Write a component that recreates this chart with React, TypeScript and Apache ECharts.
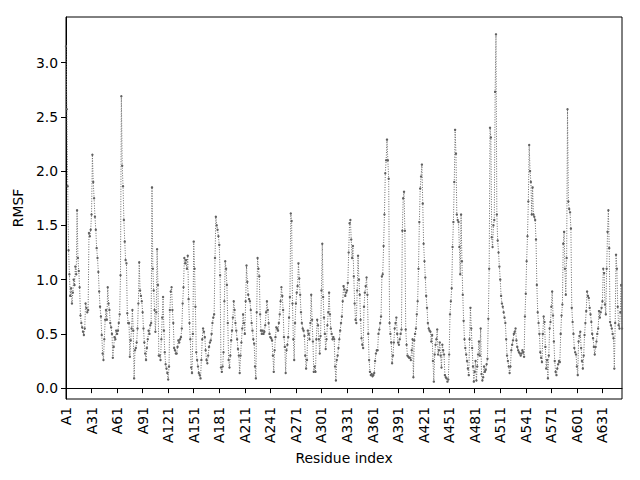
import React, { useEffect, useRef } from "react";
import * as echarts from "echarts";

const rmsf: number[] = [
  3.15, 2.57, 1.86, 1.27, 1.05, 0.85, 0.92, 0.78, 0.88, 1.0,
  0.95, 1.12, 1.05, 1.64, 1.2, 1.08, 0.93, 0.67, 0.6, 0.56,
  0.52, 0.49, 0.55, 0.78, 0.74, 0.7, 0.72, 1.43, 1.4, 1.46,
  1.6, 2.15, 1.9, 1.75, 1.58, 1.46, 1.29, 1.2, 1.07, 0.89,
  0.75, 0.66, 0.49, 0.32, 0.26, 0.45, 0.63, 0.72, 0.63, 0.93,
  0.78, 0.72, 0.6, 0.56, 0.5, 0.28, 0.38, 0.47, 0.45, 0.53,
  0.5, 0.53, 0.6, 0.68, 1.04, 2.69, 2.05, 1.86, 1.55, 1.35,
  1.18, 1.15, 0.69, 0.6, 0.6, 0.29, 0.44, 0.55, 0.72, 0.53,
  0.09, 0.35, 0.37, 0.42, 0.55, 0.78, 1.16, 0.9, 0.85, 0.8,
  0.7, 0.55, 0.42, 0.32, 0.26, 0.37, 0.45, 0.53, 0.5, 0.58,
  0.6, 1.85, 1.1, 0.9, 0.72, 0.52, 0.7, 1.28, 0.95, 0.3,
  0.3, 0.26, 0.45, 0.65, 0.84, 0.53, 0.33, 0.22, 0.18, 0.14,
  0.08, 0.2, 0.72, 0.89, 0.93, 0.72, 0.6, 0.37, 0.35, 0.32,
  0.32, 0.38, 0.44, 0.42, 0.45, 0.47, 0.55, 0.78, 0.93, 1.2,
  1.15, 1.18, 1.1, 1.22, 0.82, 0.6, 0.45, 0.19, 0.14, 0.5,
  1.35, 1.1, 0.75, 0.33, 0.26, 0.2, 0.14, 0.12, 0.09, 0.26,
  0.45, 0.55, 0.52, 0.47, 0.35, 0.26, 0.23, 0.3, 0.38, 0.42,
  0.44, 0.5, 0.6, 0.65, 0.68, 1.2, 1.58, 1.5, 1.46, 1.4,
  1.32, 1.04, 0.19, 0.15, 0.2, 0.33, 0.8, 1.17, 1.1, 0.95,
  0.6, 0.26, 0.19, 0.3, 0.44, 0.53, 0.65, 0.8, 0.72, 0.6,
  0.53, 0.45, 0.36, 0.3, 0.14, 0.3, 0.42, 0.55, 0.68, 0.6,
  0.5, 0.8, 1.13, 0.98, 0.86, 0.82, 0.8, 0.72, 0.6, 0.53,
  0.45, 0.41, 0.2, 0.09, 0.7, 1.2, 1.1, 1.03, 0.68, 0.53,
  0.5, 0.53, 0.5, 0.52, 0.58, 0.7, 0.8, 0.72, 0.6, 0.5,
  0.47, 0.46, 0.44, 0.3, 0.15, 0.35, 0.47, 0.56, 0.55, 0.53,
  0.6, 0.68, 0.8, 0.93, 0.85, 0.72, 0.47, 0.38, 0.14, 0.35,
  0.4, 0.47, 0.65, 0.84, 1.61, 1.54, 0.78, 0.45, 0.26, 0.6,
  0.78, 0.88, 0.94, 1.15, 1.01, 0.86, 0.7, 0.6, 0.55, 0.53,
  0.48, 0.3, 0.18, 0.26, 0.53, 0.5, 0.45, 0.6, 0.86, 0.63,
  0.43, 0.15, 0.2, 0.15, 0.45, 0.63, 0.58, 0.45, 0.32, 0.48,
  0.9, 1.33, 0.84, 0.65, 0.5, 0.36, 0.45, 0.58, 0.7, 0.88,
  0.68, 0.55, 0.5, 0.45, 0.47, 0.45, 0.2, 0.07, 0.26, 0.3,
  0.37, 0.45, 0.53, 0.6, 0.66, 0.8, 0.94, 0.91, 0.85, 0.88,
  0.9, 0.97, 1.25, 1.52, 1.55, 1.37, 1.2, 1.31, 1.03, 0.78,
  0.63, 0.6, 0.9, 1.22, 1.0, 0.86, 0.63, 0.46, 0.4, 0.37,
  0.75, 0.88, 0.94, 1.02, 0.86, 0.5, 0.26, 0.15, 0.12, 0.13,
  0.11, 0.12, 0.14, 0.25, 0.32, 0.35, 0.35, 0.5, 0.54, 0.6,
  0.66, 1.03, 1.05, 1.31, 1.6, 1.98, 2.1, 2.29, 2.1, 1.93,
  0.6, 0.5, 0.42, 0.23, 0.3, 0.42, 0.55, 0.6, 0.65, 0.5,
  0.42, 0.4, 0.45, 0.5, 0.54, 1.45, 1.75, 1.81, 1.45, 0.54,
  0.4, 0.3, 0.29, 0.28, 0.28, 0.26, 0.35, 0.45, 0.1, 0.44,
  0.5, 0.55, 0.68, 0.8, 1.1, 1.53, 1.84, 1.95, 2.06, 1.7,
  1.33, 1.17, 1.02, 0.85, 0.74, 0.6, 0.55, 0.53, 0.52, 0.43,
  0.49, 0.25, 0.06, 0.31, 0.4, 0.45, 0.54, 0.31, 0.35, 0.42,
  0.3, 0.19, 0.4, 0.35, 0.31, 0.12, 0.1, 0.09, 0.06, 0.08,
  0.31, 0.68, 0.8, 0.92, 1.3, 1.53, 1.9, 2.38, 2.16, 1.6,
  1.55, 1.53, 1.3, 1.05, 1.6, 1.17, 0.86, 0.62, 0.45, 0.37,
  0.31, 0.25, 0.18, 0.12, 0.45, 0.74, 0.55, 0.37, 0.2, 0.06,
  0.15, 0.25, 0.07, 0.2, 0.31, 0.43, 0.3, 0.55, 0.13, 0.07,
  0.1, 0.2, 0.15, 0.17, 0.22, 0.27, 0.64, 1.1, 2.4, 2.31,
  1.39, 1.3, 1.5, 1.55, 2.73, 3.26, 1.6, 1.36, 1.25, 1.12,
  1.0, 0.85, 0.78, 0.75, 0.7, 0.65, 0.6, 0.45, 0.3, 0.25,
  0.2, 0.14, 0.2, 0.35, 0.4, 0.44, 0.5, 0.52, 0.55, 0.44,
  0.38, 0.35, 0.33, 0.32, 0.3, 0.32, 0.35, 0.33, 0.29, 0.66,
  0.87, 1.17, 1.4, 1.72, 2.24, 2.0, 1.9, 1.6, 1.85, 1.6,
  1.58, 1.55, 1.37, 0.95, 0.7, 0.6, 0.5, 0.33, 0.28, 0.24,
  0.5, 0.66, 0.61, 0.38, 0.18, 0.26, 0.09, 0.3, 0.55, 0.61,
  0.75, 0.89, 0.67, 0.43, 0.25, 0.15, 0.12, 0.18, 0.22, 0.25,
  0.24, 0.5, 0.67, 0.77, 1.33, 1.44, 1.1, 0.86, 1.2, 2.57,
  1.72, 1.65, 1.62, 1.47, 0.74, 0.61, 0.5, 0.37, 0.33, 0.31,
  0.2, 0.12, 0.43, 0.48, 0.52, 0.37, 0.25, 0.18, 0.3, 0.49,
  0.6, 0.71, 0.89, 0.85, 0.83, 0.74, 0.68, 0.61, 0.5, 0.46,
  0.38, 0.31, 0.38, 0.43, 0.5, 0.55, 0.71, 0.65, 0.7, 0.74,
  0.8, 1.1, 1.06, 0.77, 0.68, 1.1, 1.44, 1.64, 1.29, 0.61,
  0.58, 0.55, 0.5, 0.46, 0.18, 0.6, 1.23, 1.1, 0.75, 0.58,
  0.55, 0.7, 0.95, 0.55,
];

const xTickResidues: number[] = [1, 31, 61, 91, 121, 151, 181, 211, 241, 271, 301, 331, 361, 391, 421, 451, 481, 511, 541, 571, 601, 631];
const yTickValues: number[] = [0, 0.5, 1, 1.5, 2, 2.5, 3];

const FONT = "DejaVu Sans";

export default function App() {
  const ref = useRef<HTMLDivElement>(null);
  useEffect(() => {
    if (!ref.current) return;
    const chart = echarts.init(ref.current, undefined, { renderer: "svg" });
    const data = rmsf.map((v, i) => [i, v]);
    const xTicks = xTickResidues.map((r) => r - 1);
    chart.setOption({
      animation: false,
      backgroundColor: "#ffffff",
      grid: {
        left: 66,
        right: 18,
        top: 17,
        bottom: 81,
        show: true,
        borderColor: "#000000",
        borderWidth: 1,
        backgroundColor: "transparent",
      },
      xAxis: {
        type: "value",
        min: 0,
        max: rmsf.length - 1,
        name: "Residue index",
        nameLocation: "middle",
        nameGap: 51,
        nameTextStyle: { fontFamily: FONT, fontSize: 13.9, color: "#000" },
        axisLine: { show: true, lineStyle: { color: "#000", width: 1 } },
        axisTick: { show: true, length: 5, customValues: xTicks, lineStyle: { color: "#000" } },
        axisLabel: {
          customValues: xTicks,
          rotate: 90,
          margin: 8,
          fontFamily: FONT,
          fontSize: 13.9,
          color: "#000",
          formatter: (v: number) => "A" + (Math.round(v) + 1),
        },
        splitLine: { show: false },
      },
      yAxis: {
        type: "value",
        min: -0.1,
        max: 3.42,
        name: "RMSF",
        nameLocation: "middle",
        nameGap: 33,
        nameTextStyle: { fontFamily: FONT, fontSize: 13.9, color: "#000" },
        axisLine: { show: true, lineStyle: { color: "#000", width: 1 } },
        axisTick: { show: true, length: 5, customValues: yTickValues, lineStyle: { color: "#000" } },
        axisLabel: {
          customValues: yTickValues,
          margin: 8,
          fontFamily: FONT,
          fontSize: 13.9,
          color: "#000",
          formatter: (v: number) => v.toFixed(1),
        },
        splitLine: { show: false },
      },
      series: [
        {
          type: "line",
          data,
          symbol: "circle",
          symbolSize: 2.4,
          showSymbol: true,
          showAllSymbol: true,
          itemStyle: { color: "#606060" },
          lineStyle: { color: "#6a6a6a", width: 1, type: [1, 1.5] },
          silent: true,
        },
      ],
    });
    return () => chart.dispose();
  }, []);
  return <div ref={ref} style={{ width: 640, height: 480, position: "fixed", left: 0, top: 0 }} />;
}
